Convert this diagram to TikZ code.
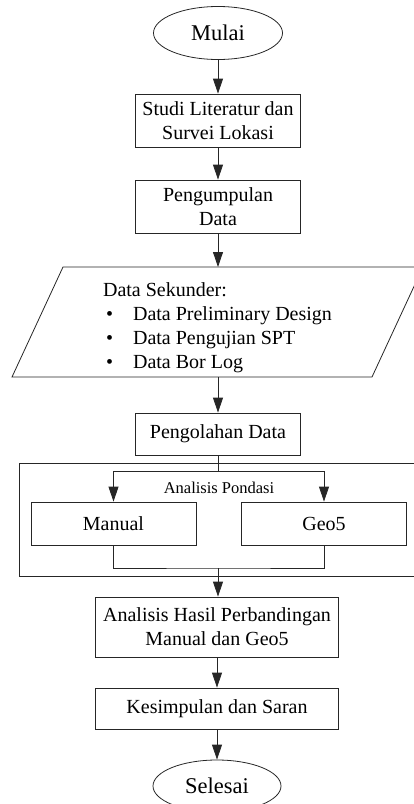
\documentclass[tikz,border=0pt]{standalone}
\usepackage{fontspec}
\setmainfont{Liberation Serif}
\usetikzlibrary{shapes.geometric, arrows.meta, positioning}

\begin{document}
\begin{tikzpicture}[x=1pt, y=-1pt,
	font=\fontsize{20}{24}\selectfont,
	garis/.style={line width=0.8pt, draw=black!85},
	terminal/.style={garis, ellipse, inner sep=0pt, minimum width=129pt, minimum height=53pt, font=\fontsize{22.5}{26}\selectfont},
	proses/.style={garis, rectangle, align=center, inner sep=0pt},
	panah/.style={garis, -{Triangle[length=15pt, width=10pt]}}]
	\clip (0,0) rectangle (414,804);
	\node[terminal] (mulai) at (218,33) {Mulai};
	\node[proses, minimum width=165pt, minimum height=53pt] (studi) at (218,120.5) {Studi Literatur dan\\Survei Lokasi};
	\node[proses, minimum width=165pt, minimum height=53pt] (kumpul) at (218,206.5) {Pengumpulan\\Data};
	% data sekunder (jajaran genjang)
	\draw[garis] (63,267) -- (423,267) -- (372,377) -- (12,377) -- cycle;
	\coordinate (sekunderatas) at (218,267);
	\coordinate (sekunderbawah) at (218,377);
	\node[align=left] (isi) at (217.5,328) {Data Sekunder:\\
		\hspace{3pt}\textbullet\hspace{20pt}Data Preliminary Design\\
		\hspace{3pt}\textbullet\hspace{20pt}Data Pengujian SPT\\
		\hspace{3pt}\textbullet\hspace{20pt}Data Bor Log};
	\node[proses, minimum width=165pt, minimum height=42pt] (olah) at (218,434) {Pengolahan Data};
	\node[proses, minimum width=398pt, minimum height=113pt] (pondasi) at (218,519.5) {};
	\node[font=\fontsize{16.5}{19}\selectfont] (judul) at (219,488) {Analisis Pondasi};
	\node[proses, minimum width=165pt, minimum height=43pt] (manual) at (113.5,523.5) {Manual};
	\node[proses, minimum width=165pt, minimum height=43pt] (geo) at (324,523.5) {Geo5};
	\node[proses, minimum width=243pt, minimum height=60pt] (hasil) at (217,627) {Analisis Hasil Perbandingan\\Manual dan Geo5};
	\node[proses, minimum width=243pt, minimum height=41pt] (simpul) at (217,708.5) {Kesimpulan dan Saran};
	\node[terminal, minimum width=128pt, minimum height=52pt] (selesai) at (217,786) {Selesai};
	\coordinate (cabang) at (218,471);
	\coordinate (gabung) at (218,568);
	\draw[panah] (mulai) -- (studi);
	\draw[panah] (studi) -- (kumpul);
	\draw[panah] (kumpul) -- (sekunderatas);
	\draw[panah] (sekunderbawah) -- (olah);
	\draw[garis] (olah.south) -- (cabang);
	\draw[panah] (cabang) -| (manual.north);
	\draw[panah] (cabang) -| (geo.north);
	\draw[garis] (manual.south) |- (gabung) -| (geo.south);
	\draw[panah] (gabung) -- (gabung |- hasil.north);
	\draw[panah] (hasil) -- (simpul);
	\draw[panah] (simpul) -- (selesai);
\end{tikzpicture}
\end{document}
